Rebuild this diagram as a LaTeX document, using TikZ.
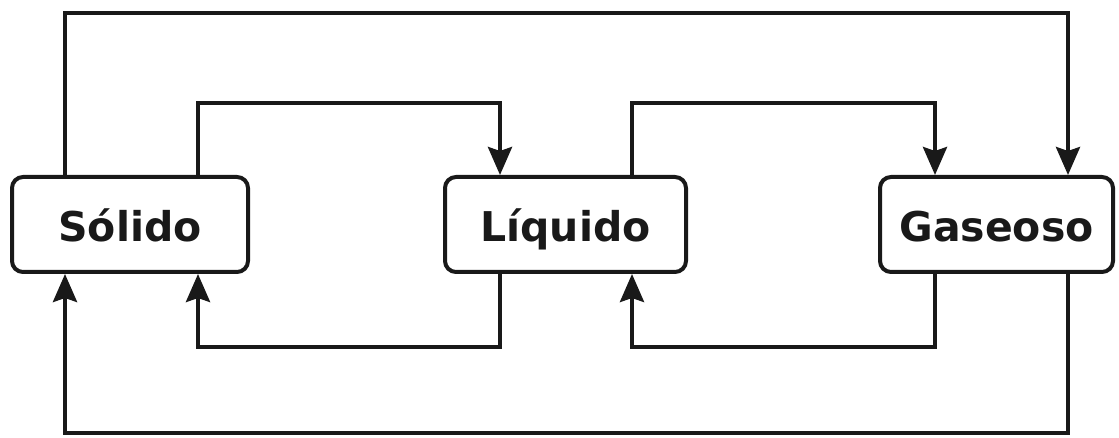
\documentclass[tikz,border=0pt]{standalone}
\usepackage{fontspec}
\setmainfont{DejaVu Sans}
\usetikzlibrary{arrows.meta}
\begin{document}
\begin{tikzpicture}[x=1pt,y=-1pt,
  state/.style={draw=black!90, line width=4pt, rounded corners=11pt, minimum height=95pt,
    inner sep=0pt, text height=37pt, text depth=3pt,
    font=\fontsize{41}{48}\selectfont\bfseries, text=black!90},
  arr/.style={draw=black!90, line width=4pt, -{Stealth[length=28pt,width=24pt,inset=4pt]}}]
\useasboundingbox (0,0) rectangle (1119,438);
\node[state, minimum width=236pt] (sol) at (130,224.5) {Sólido};
\node[state, minimum width=241pt] (liq) at (565.5,224.5) {Líquido};
\node[state, minimum width=233pt] (gas) at (996.5,224.5) {Gaseoso};
\coordinate (t1) at (65,13);
\coordinate (t6) at (1068,13);
\coordinate (m2) at (198,103);
\coordinate (m3) at (500,103);
\coordinate (m4) at (632,103);
\coordinate (m5) at (935,103);
\coordinate (b3) at (500,347);
\coordinate (b2) at (198,347);
\coordinate (b5) at (935,347);
\coordinate (b4) at (632,347);
\coordinate (B6) at (1068,433);
\coordinate (B1) at (65,433);
\draw[arr] (sol.north -| t1) -- (t1) -- (t6) -- (gas.north -| t6);
\draw[arr] (sol.north -| m2) -- (m2) -- (m3) -- (liq.north -| m3);
\draw[arr] (liq.north -| m4) -- (m4) -- (m5) -- (gas.north -| m5);
\draw[arr] (liq.south -| b3) -- (b3) -- (b2) -- (sol.south -| b2);
\draw[arr] (gas.south -| b5) -- (b5) -- (b4) -- (liq.south -| b4);
\draw[arr] (gas.south -| B6) -- (B6) -- (B1) -- (sol.south -| B1);
\end{tikzpicture}
\end{document}
